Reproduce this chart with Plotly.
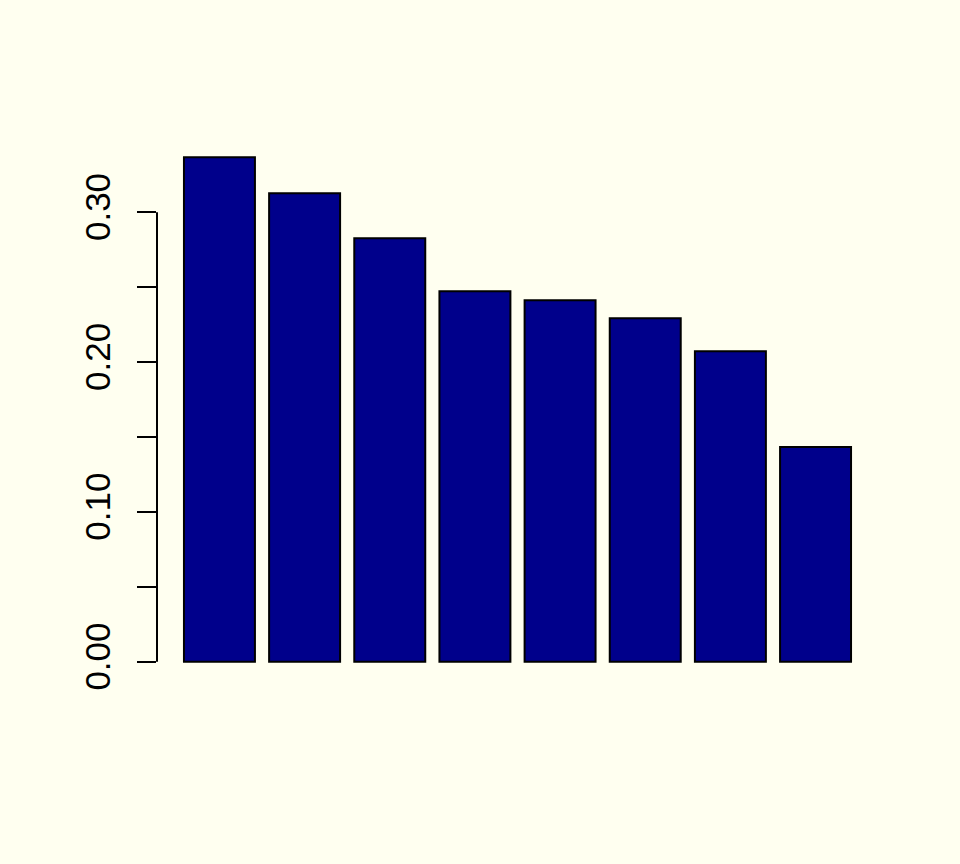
import plotly.graph_objects as go

# values, left to right
groups = ["g1", "g2", "g3", "g4", "g5", "g6", "g7", "g8"]
shares = [0.3367, 0.3127, 0.2827, 0.2473, 0.2413, 0.2293, 0.2073, 0.1433]

tick_vals = [0.0, 0.1, 0.2, 0.3]
tick_text = ["0.00", "0.10", "0.20", "0.30"]
minor_vals = [0.05, 0.15, 0.25]

bg = "#FFFFF0"

fig = go.Figure()
fig.add_trace(go.Bar(
    x=groups,
    y=shares,
    marker=dict(color="#00008B", line=dict(color="black", width=2)),
    hoverinfo="skip",
))

fig.update_layout(
    width=960,
    height=864,
    paper_bgcolor=bg,
    plot_bgcolor=bg,
    showlegend=False,
    bargap=0.2 / 1.2,
    margin=dict(l=157, r=82, t=137, b=182),
    font=dict(family="Arial", size=35, color="black"),
    xaxis=dict(visible=False, range=[-0.7333, 7.7333]),
    yaxis=dict(
        range=[-0.01347, 0.3502],
        showgrid=False,
        zeroline=False,
        showline=False,
        tickmode="array",
        tickvals=tick_vals,
        ticktext=tick_text,
        ticks="outside",
        ticklen=19,
        tickwidth=2,
        tickcolor="black",
        tickangle=-90,
        ticklabelstandoff=13,
        minor=dict(tickmode="array", tickvals=minor_vals, ticks="outside",
                   ticklen=19, tickwidth=2, tickcolor="black", showgrid=False),
    ),
)

# R draws the axis line only between the first and last tick
fig.add_shape(type="line", xref="paper", yref="y", x0=0, x1=0, y0=0, y1=0.3,
              line=dict(color="black", width=2))

# drop the page margin so the figure sits at the window corner
page_js = (
    "document.body.style.margin='0';"
    "document.body.style.background='" + bg + "';"
)
fig.write_html("out.html", post_script=page_js,
               config={"displayModeBar": False, "staticPlot": True})
